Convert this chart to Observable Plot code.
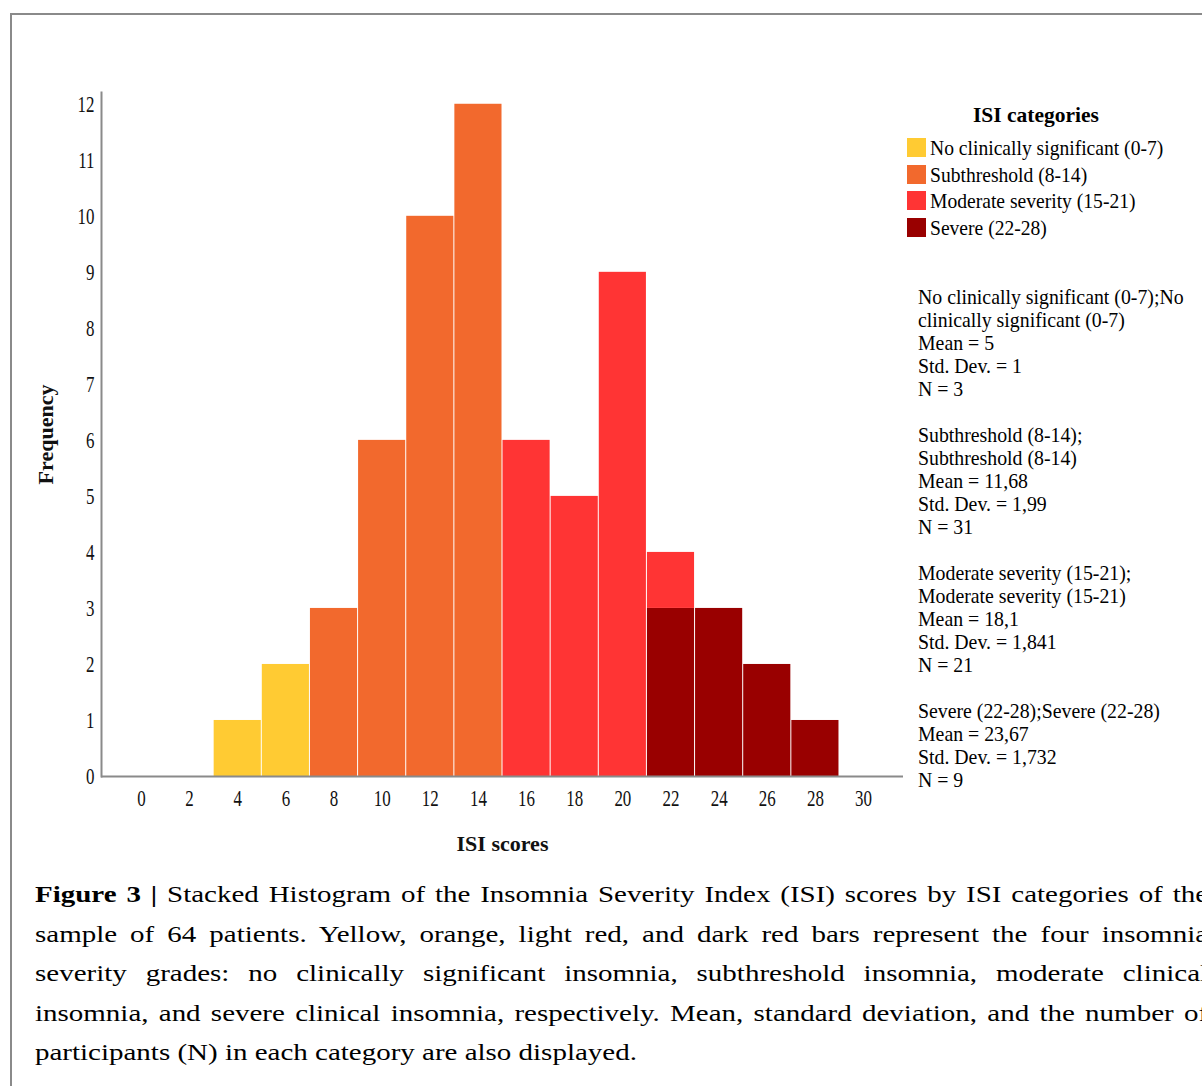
<!DOCTYPE html>
<html><head><meta charset="utf-8">
<script src="https://cdn.jsdelivr.net/npm/d3@7"></script>
<script src="https://cdn.jsdelivr.net/npm/@observablehq/plot@0.6"></script>
<style>
html,body{margin:0;padding:0;background:#fff;}
#page{position:relative;width:1202px;height:1086px;overflow:hidden;font-family:"Liberation Serif","Times New Roman",serif;color:#000;}
#frame{position:absolute;left:10px;top:13px;width:1400px;height:1300px;border:2px solid #8a8a8a;box-sizing:border-box;}
#chart{position:absolute;left:0;top:0;}
#chart g[aria-label="x-axis label"] text,#chart g[aria-label="y-axis label"] text{font-weight:bold;font-size:22px;}
#legtitle{position:absolute;left:936px;top:101px;width:200px;text-align:center;font-weight:bold;font-size:21.5px;line-height:28px;}
#legend{position:absolute;left:907px;top:138px;}
.lrow{height:26.7px;display:flex;align-items:flex-start;}
.sw{width:19px;height:19px;flex:none;}
.lt{font-size:22px;line-height:19px;margin-left:4px;white-space:nowrap;transform:scaleX(0.89);transform-origin:0 50%;}
#stats{position:absolute;left:918px;top:285px;font-size:22px;line-height:23px;white-space:pre;transform:scaleX(0.9);transform-origin:0 0;}
#caption{position:absolute;left:35px;top:875px;width:931px;font-size:23px;line-height:39.5px;transform:scale(1.26,1);transform-origin:0 0;}
.cl{text-align:justify;text-align-last:justify;white-space:nowrap;}
.cl.last{text-align-last:left;}
</style></head>
<body>
<div id="page">
  <div id="frame"></div>
  <div id="chart"></div>
  <div id="legtitle"></div>
  <div id="legend"></div>
  <div id="stats"></div>
  <div id="caption"></div>
</div>
<script>
// ---- data ----
const binCenters = [4, 6, 8, 10, 12, 14, 16, 18, 20, 22, 24, 26, 28];
const categories = ["No clinically significant (0-7)", "Subthreshold (8-14)", "Moderate severity (15-21)", "Severe (22-28)"];
const colors = ["#FFCB33", "#F2692D", "#FF3434", "#990000"];
const noClinical   = [1, 2, 0, 0, 0, 0, 0, 0, 0, 0, 0, 0, 0];
const subthreshold = [0, 0, 3, 6, 10, 12, 0, 0, 0, 0, 0, 0, 0];
const moderate     = [0, 0, 0, 0, 0, 0, 6, 5, 9, 1, 0, 0, 0];
const severe       = [0, 0, 0, 0, 0, 0, 0, 0, 0, 3, 3, 2, 1];
const xTicks = [0, 2, 4, 6, 8, 10, 12, 14, 16, 18, 20, 22, 24, 26, 28, 30];
const yTicks = [0, 1, 2, 3, 4, 5, 6, 7, 8, 9, 10, 11, 12];
const xDomain = [-1.66, 31.66];
const yDomain = [0, 12.21];
const legendTitle = "ISI categories";
const statHeaders = [
  ["No clinically significant (0-7);No", "clinically significant (0-7)"],
  ["Subthreshold (8-14);", "Subthreshold (8-14)"],
  ["Moderate severity (15-21);", "Moderate severity (15-21)"],
  ["Severe (22-28);Severe (22-28)"]
];
const means = ["5", "11,68", "18,1", "23,67"];
const stdDevs = ["1", "1,99", "1,841", "1,732"];
const ns = [3, 31, 21, 9];
const captionBold = "Figure 3 |";
const captionLines = [
  " Stacked Histogram of the Insomnia Severity Index (ISI) scores by ISI categories of the",
  "sample of 64 patients. Yellow, orange, light red, and dark red bars represent the four insomnia",
  "severity grades: no clinically significant insomnia, subthreshold insomnia, moderate clinical",
  "insomnia, and severe clinical insomnia, respectively. Mean, standard deviation, and the number of",
  "participants (N) in each category are also displayed."
];

// ---- build table (severe first so it stacks at the bottom) ----
const series = [[3, severe], [0, noClinical], [1, subthreshold], [2, moderate]];
const rows = [];
for (const [ci, arr] of series) {
  binCenters.forEach((b, i) => { if (arr[i] > 0) rows.push({bin: b, category: categories[ci], count: arr[i]}); });
}

const chart = Plot.plot({
  width: 1202,
  height: 870,
  marginLeft: 101,
  marginRight: 299,
  marginTop: 92,
  marginBottom: 94,
  style: {fontFamily: "'Liberation Serif', 'Times New Roman', serif", fontSize: "22px", color: "#111", background: "transparent"},
  x: {domain: xDomain, ticks: xTicks, tickSize: 0, tickPadding: 13, label: "ISI scores", labelAnchor: "center", labelOffset: 74, labelArrow: "none"},
  y: {domain: yDomain, ticks: yTicks, tickSize: 0, tickPadding: 7, label: "Frequency", labelAnchor: "center", labelOffset: 64, labelArrow: "none"},
  color: {domain: categories, range: colors},
  marks: [
    Plot.rectY(rows, {x1: d => d.bin - 1, x2: d => d.bin + 1, y: "count", fill: "category", insetLeft: 0.5, insetRight: 0.5}),
    Plot.ruleY([0], {stroke: "#8a8a8a", strokeWidth: 2}),
    Plot.frame({anchor: "left", stroke: "#8a8a8a", strokeWidth: 2})
  ]
});
document.getElementById("chart").appendChild(chart);

// condense tick labels like the original SPSS font
chart.querySelectorAll('g[aria-label="x-axis tick label"] text, g[aria-label="y-axis tick label"] text').forEach(t => {
  const tr = t.getAttribute("transform") || "";
  t.setAttribute("transform", tr + " scale(0.77,1.05)");
});

// ---- legend ----
document.getElementById("legtitle").textContent = legendTitle;
const leg = document.getElementById("legend");
categories.forEach((c, i) => {
  const r = document.createElement("div"); r.className = "lrow";
  const s = document.createElement("div"); s.className = "sw"; s.style.background = colors[i];
  const t = document.createElement("div"); t.className = "lt"; t.textContent = c;
  r.appendChild(s); r.appendChild(t); leg.appendChild(r);
});

// ---- stats ----
const lines = [];
categories.forEach((c, i) => {
  lines.push(...statHeaders[i]);
  lines.push("Mean = " + means[i]);
  lines.push("Std. Dev. = " + stdDevs[i]);
  lines.push("N = " + ns[i]);
  if (i < categories.length - 1) lines.push("");
});
document.getElementById("stats").textContent = lines.join("\n");

// ---- caption ----
const cap = document.getElementById("caption");
captionLines.forEach((l, i) => {
  const d = document.createElement("div");
  d.className = "cl" + (i === captionLines.length - 1 ? " last" : "");
  if (i === 0) { const b = document.createElement("b"); b.textContent = captionBold; d.appendChild(b); }
  d.appendChild(document.createTextNode(l));
  cap.appendChild(d);
});
</script>
</body></html>
